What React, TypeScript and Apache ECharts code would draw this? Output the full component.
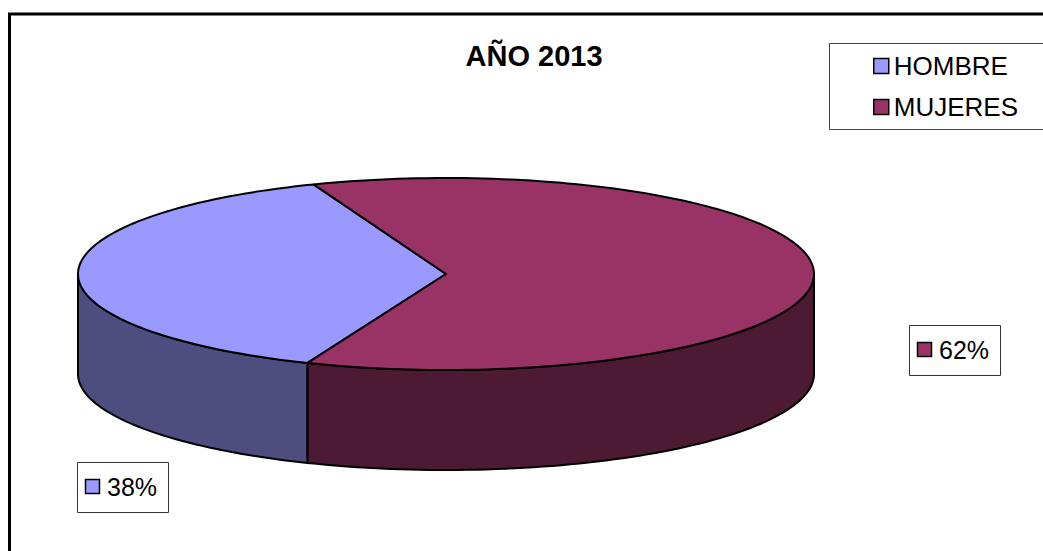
import React, { useEffect, useRef } from 'react';
import * as echarts from 'echarts';

// ---- data ----
const chartTitle = 'AÑO 2013';
const categories = ['HOMBRE', 'MUJERES'];
const values = [38, 62];

// ---- styles / layout ----
const topColors = ['#9999FF', '#993366'];
const sideColors = ['#4D4D80', '#4D1A33'];
const labelBoxes = [
  [77, 462],
  [909, 325],
];
const CX = 446;
const CY = 274;
const RX = 368;
const RY = 96;
const DEPTH = 100;
const FIRST_SLICE_CENTER = 180.5;
const FONT = '"Liberation Sans", Arial, Helvetica, sans-serif';

function pt(deg: number, dy = 0): number[] {
  const r = (deg * Math.PI) / 180;
  return [CX + RX * Math.cos(r), CY + RY * Math.sin(r) + dy];
}

function arc(a: number, b: number, dy = 0): number[][] {
  const n = Math.max(2, Math.ceil(Math.abs(b - a) / 1.5));
  const pts: number[][] = [];
  for (let k = 0; k <= n; k++) pts.push(pt(a + ((b - a) * k) / n, dy));
  return pts;
}

export default function App() {
  const ref = useRef<HTMLDivElement>(null);

  useEffect(() => {
    if (!ref.current) return;
    const chart = echarts.init(ref.current, undefined, { renderer: 'svg' });

    const total = values.reduce((s, v) => s + v, 0);
    const start0 = FIRST_SLICE_CENTER - ((values[0] / total) * 360) / 2;
    let acc = start0;
    const ranges = values.map((v) => {
      const a = acc;
      const b = acc + (v / total) * 360;
      acc = b;
      return [a, b];
    });

    const series = categories.map((name, i) => ({
      type: 'custom',
      name,
      coordinateSystem: 'none',
      silent: true,
      itemStyle: { color: topColors[i] },
      data: [[values[i], ranges[i][0], ranges[i][1]]],
      renderItem: (params: any, api: any) => {
        const idx = params.seriesIndex;
        const v = api.value(0) as number;
        const a = api.value(1) as number;
        const b = api.value(2) as number;
        const children: any[] = [];
        for (const k of [-1, 0, 1, 2]) {
          const lo = Math.max(a, k * 360);
          const hi = Math.min(b, k * 360 + 180);
          if (hi > lo) {
            const pts = arc(lo, hi).concat(arc(hi, lo, DEPTH));
            children.push({
              type: 'polygon',
              shape: { points: pts },
              style: { fill: sideColors[idx], stroke: '#000', lineWidth: 2, lineJoin: 'round' },
            });
          }
        }
        children.push({
          type: 'polygon',
          shape: { points: [[CX, CY]].concat(arc(a, b)) },
          style: { fill: topColors[idx], stroke: '#000', lineWidth: 2, lineJoin: 'round' },
        });
        const [lx, ly] = labelBoxes[idx];
        const pct = Math.round((v / total) * 100) + '%';
        children.push({
          type: 'rect',
          shape: { x: lx + 0.5, y: ly + 0.5, width: 91, height: 50 },
          style: { fill: '#fff', stroke: '#333', lineWidth: 1 },
        });
        children.push({
          type: 'rect',
          shape: { x: lx + 8.5, y: ly + 17.5, width: 14, height: 14 },
          style: { fill: topColors[idx], stroke: '#000', lineWidth: 1.5 },
        });
        children.push({
          type: 'text',
          x: lx + 30,
          y: ly + 25,
          style: {
            text: pct,
            fill: '#000',
            fontSize: 25,
            fontFamily: FONT,
            verticalAlign: 'middle',
            align: 'left',
          },
        });
        return { type: 'group', children };
      },
    }));

    chart.setOption({
      animation: false,
      backgroundColor: '#fff',
      title: {
        text: chartTitle,
        left: 534,
        top: 41,
        textAlign: 'center',
        padding: 0,
        textStyle: { fontSize: 29, fontWeight: 'bold', fontFamily: FONT, color: '#000' },
      },
      legend: {
        orient: 'vertical',
        left: 873,
        top: 53,
        padding: 0,
        itemWidth: 15,
        itemHeight: 15,
        itemGap: 15,
        icon: 'rect',
        selectedMode: false,
        data: categories,
        itemStyle: { borderColor: '#000', borderWidth: 1.5 },
        textStyle: { fontSize: 26, fontFamily: FONT, color: '#000' },
      },
      graphic: [
        {
          type: 'rect',
          z: -10,
          shape: { x: 9.5, y: 14, width: 1100, height: 600 },
          style: { fill: '#fff', stroke: '#000', lineWidth: 3 },
        },
        {
          type: 'rect',
          z: -5,
          shape: { x: 829.5, y: 43.5, width: 300, height: 86 },
          style: { fill: '#fff', stroke: '#444', lineWidth: 1 },
        },
      ],
      series,
    });

    return () => chart.dispose();
  }, []);

  return (
    <div
      ref={ref}
      style={{ position: 'fixed', left: 0, top: 0, width: 1043, height: 551, background: '#fff' }}
    />
  );
}
